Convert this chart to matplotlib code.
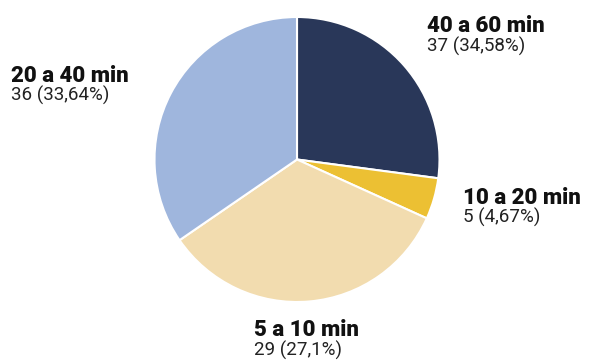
import matplotlib.pyplot as plt

# Data
categories = ['40 a 60 min', '10 a 20 min', '5 a 10 min', '20 a 40 min']
label_values = [37, 5, 29, 36]
label_pcts = ['34,58', '4,67', '27,1', '33,64']
# slice sizes as drawn in the picture (clockwise from 12 o'clock)
slice_values = [29, 5, 36, 37]
colors = ['#293759', '#ecc033', '#f2dcaf', '#9fb6dd']

# label anchor (left, baseline of bold line) in pixel coords
label_pos = [(427, 32), (463, 203.5), (254, 336.5), (11, 81.5)]

W, H = 595, 363
fig = plt.figure(figsize=(W / 100, H / 100), dpi=100)
ax = fig.add_axes([0, 0, 1, 1])

cx, cy, r = 297, H - 159.5, 142.5
ax.pie(slice_values, colors=colors, startangle=90, counterclock=False,
       center=(cx, cy), radius=r, frame=True,
       wedgeprops=dict(edgecolor='white', linewidth=1.5))
ax.set_xlim(0, W)
ax.set_ylim(0, H)
ax.set_aspect('equal')
ax.axis('off')

for cat, v, pct, (x, y) in zip(categories, label_values, label_pcts, label_pos):
    ax.text(x, H - y, cat, fontsize=16, fontweight='black', family='Roboto',
            ha='left', va='baseline', color='#111111')
    ax.text(x, H - y - 19.5, f'{v} ({pct}%)', fontsize=13.5, family='Roboto',
            ha='left', va='baseline', color='#222222')

fig.savefig('out.png', dpi=100)
